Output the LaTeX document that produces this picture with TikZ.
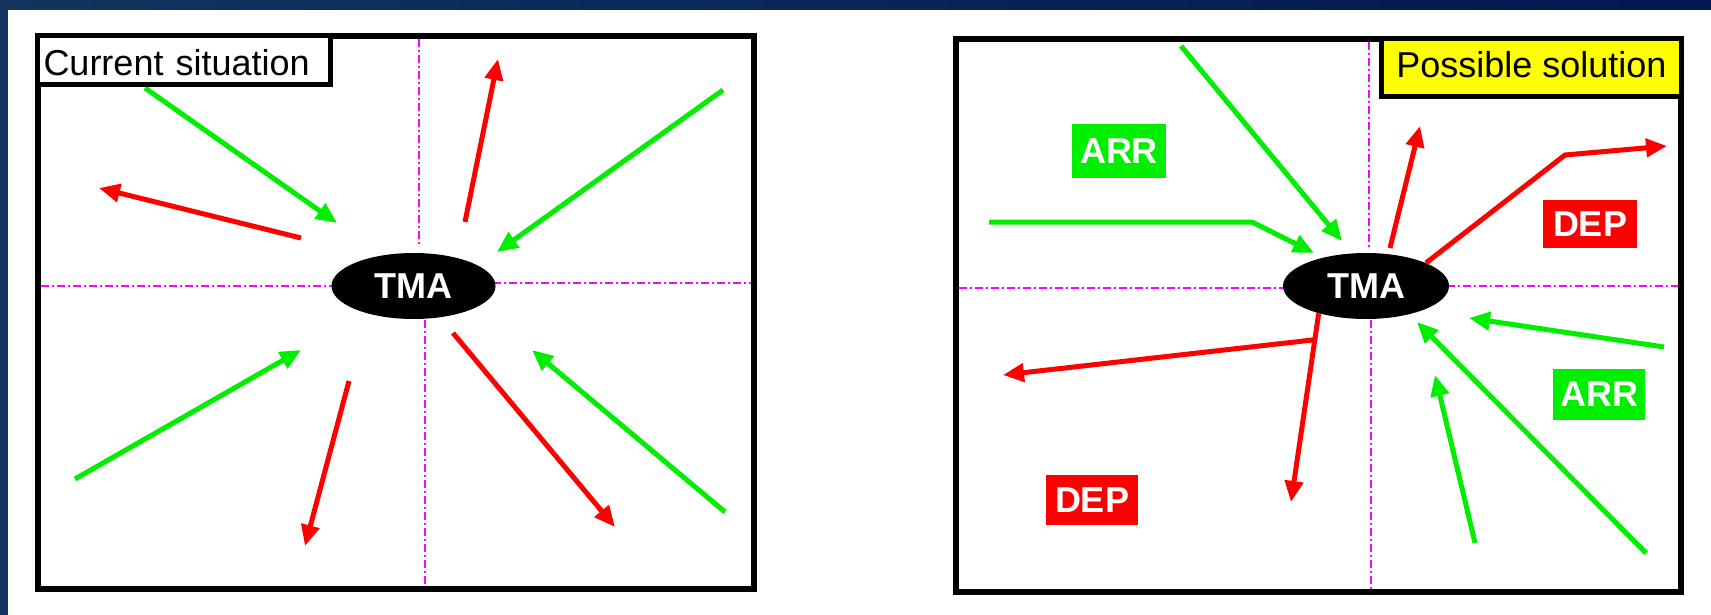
\documentclass[tikz,border=0pt]{standalone}
\usepackage{fontspec}
\setmainfont{Liberation Sans}
\usetikzlibrary{arrows.meta,shapes.geometric,calc}
\definecolor{navyA}{RGB}{18,52,94}
\definecolor{navyB}{RGB}{0,24,80}
\definecolor{arrgreen}{RGB}{0,238,0}
\definecolor{depred}{RGB}{255,0,0}
\definecolor{axismag}{RGB}{255,0,255}
\definecolor{labyellow}{RGB}{255,255,0}
\tikzset{
  bigtext/.style={font=\fontsize{36pt}{40pt}\selectfont},
  bigbold/.style={font=\fontsize{36pt}{40pt}\selectfont\bfseries},
  panelframe/.style={draw=black, line width=6pt, rectangle, inner sep=0pt},
  tmanode/.style={ellipse, fill=black, text=white, inner sep=0pt, bigbold},
  axisline/.style={draw=axismag, line width=1.5pt, dash pattern=on 8pt off 3pt on 2pt off 3pt},
  arrG/.style={draw=arrgreen, line width=5pt, -{Triangle[length=21pt,width=18pt]}},
  arrR/.style={draw=depred, line width=5pt, -{Triangle[length=21pt,width=18pt]}},
  tagbox/.style={rectangle, inner sep=0pt, text=white, bigbold},
  titlebox/.style={draw=black, line width=5pt, inner sep=0pt, bigtext}
}
\begin{document}
\begin{tikzpicture}[x=1pt,y=-1pt]
\useasboundingbox (0,0) rectangle (1711,615);
% background
\fill[white] (0,0) rectangle (1711,615);
\shade[left color=navyA,right color=navyB] (0,0) rectangle (1711,9.5);
\fill[navyA] (0,0) rectangle (7.5,615);

% ---------------- left panel ----------------
\node[panelframe, minimum width=716pt, minimum height=553pt] (frameL) at (396,312.5) {};
\draw[axisline] (419,39) -- (419,247);
\draw[axisline] (425,320) -- (425,586);
\draw[axisline] (41,286) -- (332,286);
\draw[axisline] (493,283) -- (751,283);
\node[tmanode, minimum width=164pt, minimum height=66pt] (tmaL) at (413.5,286) {TMA};

\coordinate (L1s) at (145,88);   \coordinate (L1e) at (337,223);
\coordinate (L2s) at (301,238);  \coordinate (L2e) at (99,188);
\coordinate (L3s) at (465,222);  \coordinate (L3e) at (498,59);
\coordinate (L4s) at (723,90);   \coordinate (L4e) at (497,252);
\coordinate (L5s) at (75,479);   \coordinate (L5e) at (301,350);
\coordinate (L6s) at (349,381);  \coordinate (L6e) at (305,546);
\coordinate (L7s) at (453,333);  \coordinate (L7e) at (615,527);
\coordinate (L8s) at (725,512);  \coordinate (L8e) at (532,350);
\draw[arrG] (L1s) -- (L1e);
\draw[arrR] (L2s) -- (L2e);
\draw[arrR] (L3s) -- (L3e);
\draw[arrG] (L4s) -- (L4e);
\draw[arrG] (L5s) -- (L5e);
\draw[arrR] (L6s) -- (L6e);
\draw[arrR] (L7s) -- (L7e);
\draw[arrG] (L8s) -- (L8e);

\node[titlebox, fill=white, anchor=north west, minimum width=293pt, minimum height=49pt,
      text width=281pt, inner xsep=6pt, align=left, text height=31pt] (curr) at (frameL.north west) {Current situation};

% ---------------- right panel ----------------
\node[panelframe, minimum width=725pt, minimum height=553pt] (frameR) at (1318.5,315.5) {};
\draw[axisline] (1369,42) -- (1369,247);
\draw[axisline] (1371,320) -- (1371,589);
\draw[axisline] (959,288) -- (1293,288);
\draw[axisline] (1447,286) -- (1678,286);
\node[tmanode, minimum width=166pt, minimum height=66pt] (tmaR) at (1366,286) {TMA};

\coordinate (R1s) at (1181,46);  \coordinate (R1e) at (1342,241);
\coordinate (R2s) at (989,222);  \coordinate (R2m) at (1252,222); \coordinate (R2e) at (1314,253);
\coordinate (R3s) at (1390,248); \coordinate (R3e) at (1420,126);
\coordinate (R4m) at (1565,155); \coordinate (R4e) at (1667,146);
\coordinate (R5e) at (1291,502);
\coordinate (R6s) at ($(tmaR.-150)!0.14!(R5e)$); \coordinate (R6e) at (1003,375);
\coordinate (R7s) at (1664,347); \coordinate (R7e) at (1469,318);
\coordinate (R8s) at (1646,553); \coordinate (R8e) at (1417,322);
\coordinate (R9s) at (1475,543); \coordinate (R9e) at (1435,375);

\draw[arrG] (R1s) -- (R1e);
\draw[arrG] (R2s) -- (R2m) -- (R2e);
\draw[arrR] (R3s) -- (R3e);
\draw[arrR] (tmaR.21) -- (R4m) -- (R4e);
\draw[arrR] (tmaR.-150) -- (R5e);
\draw[arrR] (R6s) -- (R6e);
\draw[arrG] (R7s) -- (R7e);
\draw[arrG] (R8s) -- (R8e);
\draw[arrG] (R9s) -- (R9e);

\node[tagbox, fill=arrgreen, minimum width=94pt, minimum height=54pt] (arr1) at (1119,151) {ARR};
\node[tagbox, fill=depred, minimum width=94pt, minimum height=48pt] (dep1) at (1590,224) {DEP};
\node[tagbox, fill=arrgreen, minimum width=92pt, minimum height=51pt] (arr2) at (1599,394.5) {ARR};
\node[tagbox, fill=depred, minimum width=92pt, minimum height=50pt] (dep2) at (1092,500) {DEP};

\node[titlebox, fill=labyellow, anchor=north east, minimum width=300pt, minimum height=58pt,
      text depth=6pt] (poss) at (frameR.north east) {Possible solution};
\end{tikzpicture}
\end{document}
